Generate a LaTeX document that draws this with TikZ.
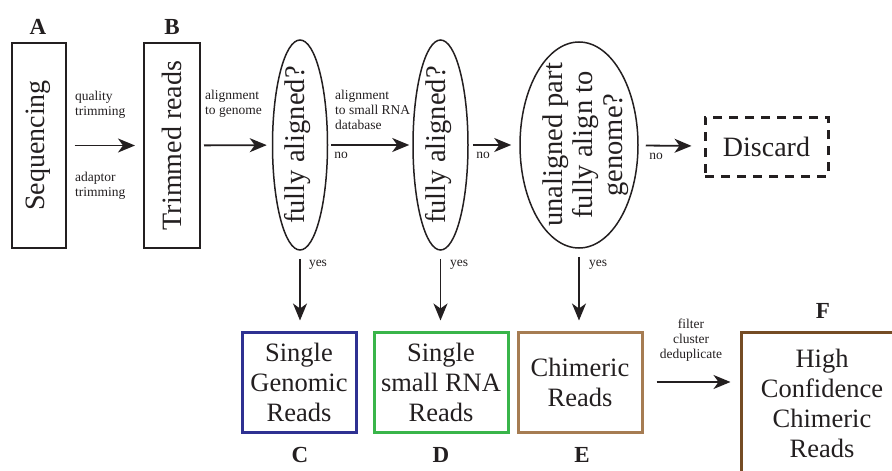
\documentclass[tikz,border=0pt]{standalone}
\usepackage{fontspec}
\setmainfont{Liberation Serif}
\usetikzlibrary{arrows.meta,shapes.geometric}

\definecolor{ink}{HTML}{231F20}
\definecolor{genomicblue}{HTML}{2E3192}
\definecolor{rnagreen}{HTML}{39B54A}
\definecolor{chimbrown}{HTML}{A67C52}
\definecolor{hcbrown}{HTML}{754C24}

\begin{document}
\begin{tikzpicture}[x=1pt,y=-1pt,
	every node/.style={text=ink},
	stage/.style={draw=ink,line width=2pt,inner sep=0pt,font=\fontsize{28}{30}\selectfont},
	query/.style={draw=ink,ellipse,line width=1.5pt,inner sep=0pt},
	asked/.style={rotate=90,align=center,inner sep=0pt,font=\fontsize{28.5}{30}\selectfont},
	result/.style={draw,line width=3pt,inner sep=0pt,align=center,font=\fontsize{26.5}{30}\selectfont},
	note/.style={inner sep=0pt,align=left,font=\fontsize{13.5}{15}\selectfont},
	tag/.style={inner sep=0pt,font=\fontsize{23}{23}\selectfont\bfseries},
	flow/.style={-{Stealth[length=17pt,width=14pt,inset=5pt]},draw=ink,line width=1.8pt}]

	%\draw[help lines] (0,0) grid[step=50] (892,471);

	\useasboundingbox (0,0) rectangle (892,471);
	\clip (0,0) rectangle (892,471);

	% first row: sequencing and the three checks
	\node[stage,rotate=90,minimum width=205,minimum height=54] (seq) at (38.5,145.5) {Sequencing};
	\node[stage,rotate=90,minimum width=205,minimum height=56] (trim) at (172,145.5) {Trimmed reads};

	\node[query,minimum width=55,minimum height=210] (q1) at (300,145) {};
	\node[asked] (q1text) at (298,145) {fully aligned?};
	\node[query,minimum width=55,minimum height=210] (q2) at (440.5,145) {};
	\node[asked] (q2text) at (439,145) {fully aligned?};
	\node[query,minimum width=118,minimum height=206] (q3) at (579,145) {};
	\node[asked] (q3text) at (586,145) {unaligned part\\fully align to\\genome?};

	\node[draw=ink,dash pattern=on 9pt off 7pt,line width=3pt,inner sep=0pt,
		minimum width=123,minimum height=59,font=\fontsize{28}{30}\selectfont] (discard) at (766.5,146.5) {Discard};

	% second row: outputs
	\node[result,draw=genomicblue,minimum width=114,minimum height=100] (genomic) at (299,382) {Single\\Genomic\\Reads};
	\node[result,draw=rnagreen,minimum width=134,minimum height=100] (smallrna) at (441,382) {Single\\small RNA\\Reads};
	\node[result,draw=chimbrown,minimum width=124,minimum height=100] (chim) at (580,382) {Chimeric\\Reads};
	\node[result,draw=hcbrown,minimum width=162,minimum height=142] (hcchim) at (822,403) {High\\Confidence\\Chimeric\\Reads};

	\node[tag] (tagA) at (38,27) {A};
	\node[tag] (tagB) at (172,27) {B};
	\node[tag] (tagC) at (300,455) {C};
	\node[tag] (tagD) at (441,455) {D};
	\node[tag] (tagE) at (582,455) {E};
	\node[tag] (tagF) at (823,311) {F};

	% arrows along the top
	\draw[flow,shorten <=8pt,shorten >=8pt] (seq) -- (trim);
	\node[note,anchor=west] (qual) at (75,105) {quality\\trimming};
	\node[note,anchor=west] (adapt) at (75,186) {adaptor\\trimming};

	\draw[flow,shorten <=3pt,shorten >=5pt] (trim) -- (q1);
	\node[note,anchor=west] (togenome) at (205,104) {alignment\\to genome};

	\draw[flow,shorten <=3pt,shorten >=3pt] (q1) -- (q2);
	\node[note,anchor=west] (torna) at (335,110) {alignment\\to small RNA\\database};
	\node[note] (no1) at (341,155) {no};

	\draw[flow,shorten <=4pt,shorten >=8pt] (q2) -- (q3);
	\node[note] (no2) at (483,155) {no};

	\draw[flow,shorten <=7pt,shorten >=12pt] (q3) -- (discard);
	\node[note] (no3) at (656,156) {no};

	% arrows down to the outputs
	\draw[flow,shorten <=8pt,shorten >=10pt] (q1.south) -- (q1.south |- genomic.north);
	\node[note] (yes1) at (318,265) {yes};
	\draw[flow,shorten <=8pt,shorten >=10pt] (q2.south) -- (q2.south |- smallrna.north);
	\node[note] (yes2) at (459,265) {yes};
	\draw[flow,shorten <=8pt,shorten >=10pt] (q3.south) -- (q3.south |- chim.north);
	\node[note] (yes3) at (598,265) {yes};

	\draw[flow,shorten <=13pt,shorten >=9pt] (chim.east) -- (chim.east -| hcchim.west);
	\node[note,align=center] (filt) at (691,340) {filter\\cluster\\deduplicate};

\end{tikzpicture}
\end{document}
